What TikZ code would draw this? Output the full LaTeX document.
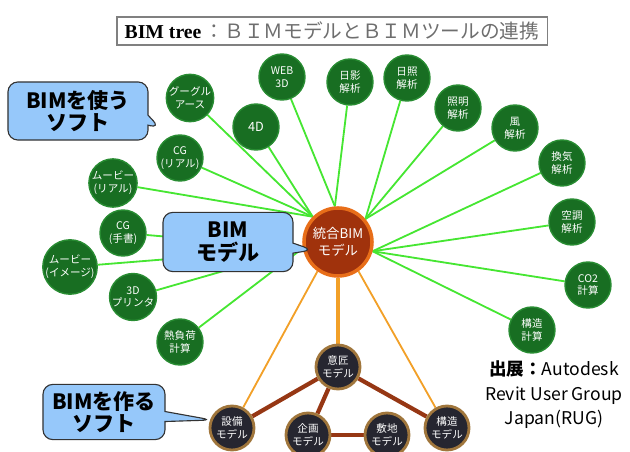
\documentclass[tikz,border=0pt]{standalone}
\usepackage{fontspec}
\setmainfont{Liberation Serif}
\newfontfamily\jpfont{Noto Sans CJK JP}
\usetikzlibrary{shapes.callouts,backgrounds,positioning}
\definecolor{leafgreen}{RGB}{24,110,34}
\definecolor{leafrim}{RGB}{40,140,50}
\definecolor{linegreen}{RGB}{70,230,50}
\definecolor{hubfill}{RGB}{160,50,12}
\definecolor{hubrim}{RGB}{232,110,25}
\definecolor{linkorange}{RGB}{242,160,40}
\definecolor{modelfill}{RGB}{38,38,48}
\definecolor{modelrim}{RGB}{160,118,60}
\definecolor{linkbrown}{RGB}{150,55,20}
\definecolor{calloutblue}{RGB}{150,200,250}
\definecolor{titlegray}{RGB}{110,110,110}

\begin{document}
\begin{tikzpicture}[
        x=0.025cm, y=-0.025cm,
        leaf/.style={circle, fill=leafgreen, draw=leafrim, line width=1pt,
                     minimum size=1.15cm, inner sep=0pt, align=center,
                     text=white, font=\jpfont\fontsize{7.5}{9}\selectfont},
        model/.style={circle, fill=modelfill, draw=modelrim, line width=2pt,
                      minimum size=1.1cm, inner sep=0pt, align=center,
                      text=white, font=\jpfont\fontsize{7.5}{9}\selectfont},
        callbox/.style={rectangle callout, rounded corners=7pt, fill=calloutblue,
                        draw=black!80, thick, align=center, inner sep=2pt,
                        font=\jpfont\bfseries\fontsize{15}{16}\selectfont},
        leafline/.style={draw=linegreen, line width=1.3pt},
        hubline/.style={draw=linkorange, line width=1.3pt},
        modelline/.style={draw=linkbrown, line width=3pt}
    ]
    \useasboundingbox (0,0) rectangle (630,452);

    %% ── Title ───────────────────────────────────────────────────────────────
    \node[draw=gray, thick, minimum width=10.75cm, minimum height=0.7cm,
          inner sep=2pt] (title) at (332,31)
        {\fontsize{14}{16}\selectfont\textbf{BIM tree}\,{\jpfont\color{titlegray}：ＢＩＭモデルとＢＩＭツールの連携}};

    %% ── Central model ───────────────────────────────────────────────────────
    \node[circle, fill=hubfill, draw=hubrim, line width=2.5pt, minimum size=1.7cm,
          inner sep=0pt, align=center, text=white,
          font=\jpfont\fontsize{9.5}{12}\selectfont] (hub) at (338,242) {統合BIM\\モデル};

    %% ── Tools using BIM ─────────────────────────────────────────────────────
    \node[leaf] (google)  at (190, 98) {グーグル\\アース};
    \node[leaf] (web3d)   at (282, 77) {WEB\\3D};
    \node[leaf] (fourd)   at (256,127) {\fontsize{9}{10}\selectfont 4D};
    \node[leaf] (hikage)  at (350, 82) {日影\\解析};
    \node[leaf] (nissho)  at (407, 78) {日照\\解析};
    \node[leaf] (shoumei) at (458,108) {照明\\解析};
    \node[leaf] (kaze)    at (515,128) {風\\解析};
    \node[leaf] (kanki)   at (562,163) {換気\\解析};
    \node[leaf] (kuuchou) at (572,222) {空調\\解析};
    \node[leaf] (cotwo)   at (588,285) {CO2\\計算};
    \node[leaf] (kouzouc) at (532,330) {構造\\計算};
    \node[leaf] (cgreal)  at (180,158) {CG\\(リアル)};
    \node[leaf] (movreal) at (113,183) {ムービー\\(リアル)};
    \node[leaf] (cghand)  at (123,233) {CG\\(手書)};
    \node[leaf] (movimg)  at ( 70,267) {ムービー\\(イメージ)};
    \node[leaf] (printer) at (133,297) {3D\\プリンタ};
    \node[leaf] (netsu)   at (180,342) {熱負荷\\計算};

    %% ── Tools making BIM ────────────────────────────────────────────────────
    \node[model] (ishou)    at (338,367) {意匠\\モデル};
    \node[model] (setsubi)  at (232,428) {設備\\モデル};
    \node[model] (kikaku)   at (308,435) {企画\\モデル};
    \node[model] (shikichi) at (387,435) {敷地\\モデル};
    \node[model] (kouzou)   at (447,428) {構造\\モデル};

    %% ── Connectors (behind the circles) ─────────────────────────────────────
    \begin{scope}[on background layer]
        \foreach \n in {google,fourd,cgreal,movreal}
            \draw[leafline] (\n) -- (hub.135);
        \foreach \n in {web3d,hikage}
            \draw[leafline] (\n) -- (hub.95);
        \foreach \n in {nissho,shoumei,kaze}
            \draw[leafline] (\n) -- (hub.40);
        \foreach \n in {kanki,kuuchou,cotwo,kouzouc}
            \draw[leafline] (\n) -- (hub.-15);
        \foreach \n in {cghand,movimg,printer,netsu}
            \draw[leafline] (\n) -- (hub.190);

        \draw[hubline, line width=3.5pt] (hub.south) -- (ishou);
        \draw[hubline] (hub.235) -- (setsubi);
        \draw[hubline] (hub.305) -- (kouzou);

        \draw[modelline] (ishou) -- (setsubi);
        \draw[modelline] (ishou) -- (kouzou);
        \draw[modelline] (ishou) -- (kikaku);
        \draw[modelline] (kikaku) -- (shikichi);
    \end{scope}

    %% ── Callouts ────────────────────────────────────────────────────────────
    \coordinate (usetip)   at (160,128);
    \coordinate (modeltip) at (313,250);
    \coordinate (maketip)  at (212,420);

    \node[callbox, minimum width=3.5cm, minimum height=1.45cm,
          callout absolute pointer=(usetip)] (usesoft) at (78,111) {BIMを使う\\ソフト};
    \node[callbox, minimum width=3.25cm, minimum height=1.48cm,
          callout absolute pointer=(modeltip)] (bimmodel) at (228,242) {BIM\\モデル};
    \node[callbox, minimum width=3.05cm, minimum height=1.38cm,
          callout absolute pointer=(maketip)] (makesoft) at (104,412) {BIMを作る\\ソフト};

    %% ── Source ──────────────────────────────────────────────────────────────
    \node[align=center, font=\jpfont\fontsize{12.5}{17.5}\selectfont] (source) at (554,395)
        {{\bfseries 出展：}Autodesk\\Revit User Group\\Japan(RUG)};
\end{tikzpicture}
\end{document}
